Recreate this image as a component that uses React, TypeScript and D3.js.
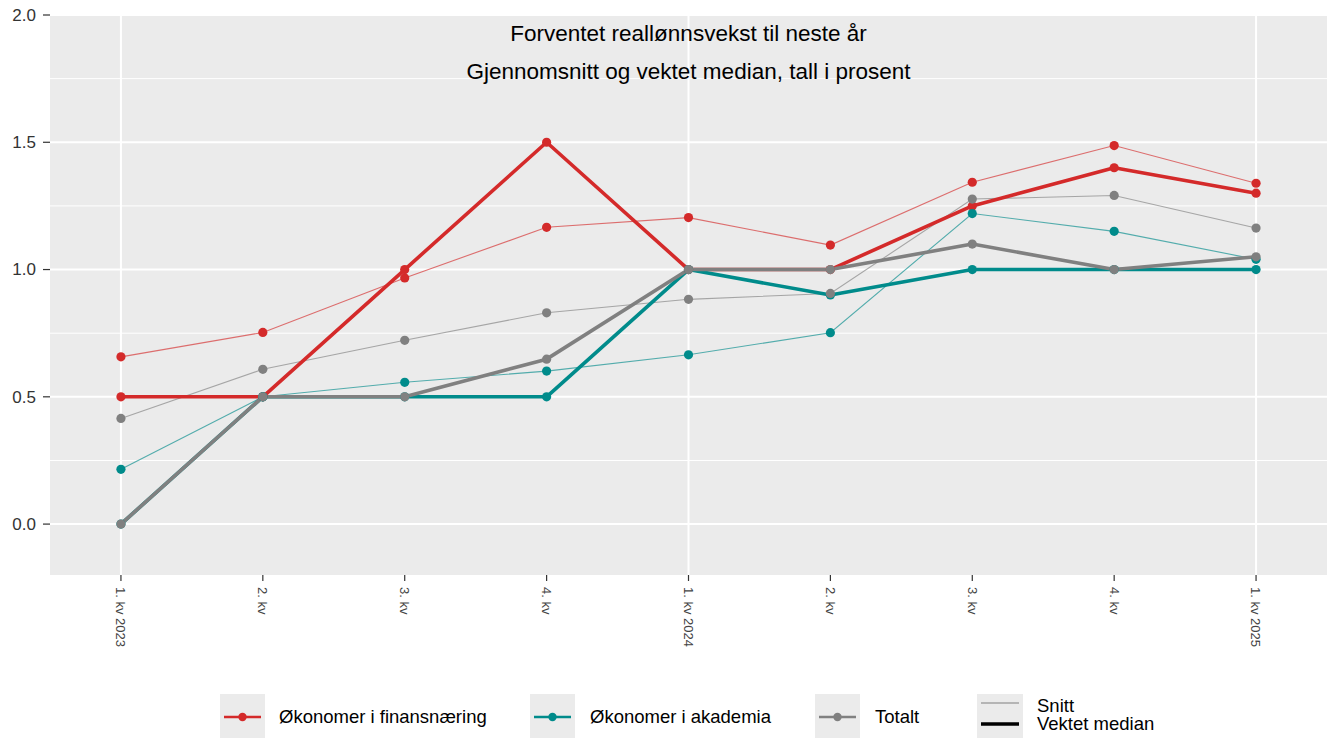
import React from "react";
import * as d3 from "d3";

const quarters = ["1. kv|2023", "2. kv", "3. kv", "4. kv", "1. kv|2024", "2. kv", "3. kv", "4. kv", "1. kv|2025"];
const seriesNames = ["Økonomer i finansnæring", "Økonomer i akademia", "Totalt"];
const seriesColors = ["#D42A2A", "#008B8B", "#808080"];
const finansSnitt = [0.657, 0.753, 0.967, 1.166, 1.204, 1.096, 1.343, 1.487, 1.339];
const finansMedian = [0.5, 0.5, 1.0, 1.5, 1.0, 1.0, 1.25, 1.4, 1.3];
const akademiaSnitt = [0.215, 0.5, 0.557, 0.601, 0.665, 0.752, 1.22, 1.15, 1.04];
const akademiaMedian = [0.0, 0.5, 0.5, 0.5, 1.0, 0.9, 1.0, 1.0, 1.0];
const totaltSnitt = [0.415, 0.608, 0.722, 0.83, 0.883, 0.906, 1.277, 1.291, 1.163];
const totaltMedian = [0.0, 0.5, 0.5, 0.648, 1.0, 1.0, 1.1, 1.0, 1.05];
const yTicks = [0, 0.5, 1.0, 1.5, 2.0];
const yMinor = [0.25, 0.75, 1.25, 1.75];
const majorXIdx = [0, 4, 8];

const snitt = [finansSnitt, akademiaSnitt, totaltSnitt];
const median = [finansMedian, akademiaMedian, totaltMedian];

const W = 1333, H = 739;
const panel = { left: 50, right: 1327, top: 15, bottom: 575 };
const FONT = "'Liberation Sans', Arial, Helvetica, sans-serif";

export default function App() {
  const x = d3.scaleLinear().domain([-0.5, quarters.length - 0.5]).range([panel.left, panel.right]);
  const y = d3.scaleLinear().domain([-0.2, 2.0]).range([panel.bottom, panel.top]);
  const line = d3.line<number>().x((_, i) => x(i)).y((d) => y(d));

  const legendItems = [
    { x0: 220, tx: 279 },
    { x0: 530, tx: 590 },
    { x0: 815, tx: 875 },
  ];

  return (
    <svg width={W} height={H} style={{ position: "absolute", left: 0, top: 0, fontFamily: FONT }}>
      <rect x={0} y={0} width={W} height={H} fill="white" />
      <rect x={panel.left} y={panel.top} width={panel.right - panel.left} height={panel.bottom - panel.top} fill="#EBEBEB" />
      {yMinor.map((v) => (
        <line key={"mn" + v} x1={panel.left} x2={panel.right} y1={y(v)} y2={y(v)} stroke="white" strokeWidth={1} />
      ))}
      {yTicks.map((v) => (
        <line key={"mj" + v} x1={panel.left} x2={panel.right} y1={y(v)} y2={y(v)} stroke="white" strokeWidth={2} />
      ))}
      {majorXIdx.map((i) => (
        <line key={"vx" + i} x1={x(i)} x2={x(i)} y1={panel.top} y2={panel.bottom} stroke="white" strokeWidth={2} />
      ))}
      <text x={(panel.left + panel.right) / 2} y={41} textAnchor="middle" fontSize={22.5} fill="#000">Forventet reallønnsvekst til neste år</text>
      <text x={(panel.left + panel.right) / 2} y={79} textAnchor="middle" fontSize={22.5} fill="#000">Gjennomsnitt og vektet median, tall i prosent</text>

      {snitt.map((s, k) => (
        <path key={"sl" + k} d={line(s) || ""} fill="none" stroke={seriesColors[k]} strokeOpacity={0.65} strokeWidth={1.1} />
      ))}
      {median.map((s, k) => (
        <path key={"ml" + k} d={line(s) || ""} fill="none" stroke={seriesColors[k]} strokeWidth={3.6} strokeLinejoin="round" />
      ))}
      {[0, 1, 2].map((k) => (
        <g key={"pts" + k}>
          {snitt[k].map((v, i) => (
            <circle key={"s" + i} cx={x(i)} cy={y(v)} r={4.6} fill={seriesColors[k]} />
          ))}
          {median[k].map((v, i) => (
            <circle key={"m" + i} cx={x(i)} cy={y(v)} r={4.6} fill={seriesColors[k]} />
          ))}
        </g>
      ))}

      {yTicks.map((v) => (
        <g key={"yt" + v}>
          <line x1={43} x2={50} y1={y(v)} y2={y(v)} stroke="#333" strokeWidth={1.2} />
          <text x={36} y={y(v)} dy="0.35em" textAnchor="end" fontSize={17} fill="#333">{v.toFixed(1)}</text>
        </g>
      ))}
      {quarters.map((q, i) => (
        <g key={"xt" + i}>
          <line x1={x(i)} x2={x(i)} y1={panel.bottom} y2={panel.bottom + 6} stroke="#333" strokeWidth={1.2} />
          <text transform={`translate(${x(i)},${panel.bottom + 12}) rotate(90)`} dy="0.35em" textAnchor="start" fontSize={13} fill="#444">
            {q.replace("|", " ")}
          </text>
        </g>
      ))}

      {legendItems.map((it, k) => (
        <g key={"lg" + k}>
          <rect x={it.x0} y={694} width={45} height={44} fill="#EBEBEB" />
          <line x1={it.x0 + 4} x2={it.x0 + 41} y1={717} y2={717} stroke={seriesColors[k]} strokeWidth={2.5} />
          <circle cx={it.x0 + 22.5} cy={717} r={4.2} fill={seriesColors[k]} />
          <text x={it.tx} y={717} dy="0.35em" fontSize={18.5} fill="#000">{seriesNames[k]}</text>
        </g>
      ))}
      <rect x={977} y={694} width={46} height={44} fill="#EBEBEB" />
      <line x1={981} x2={1019} y1={703} y2={703} stroke="#808080" strokeWidth={1.2} />
      <line x1={981} x2={1019} y1={724} y2={724} stroke="#000" strokeWidth={3.5} />
      <text x={1037} y={711.5} fontSize={18.5} fill="#000">Snitt</text>
      <text x={1037} y={730} fontSize={18.5} fill="#000">Vektet median</text>
    </svg>
  );
}
